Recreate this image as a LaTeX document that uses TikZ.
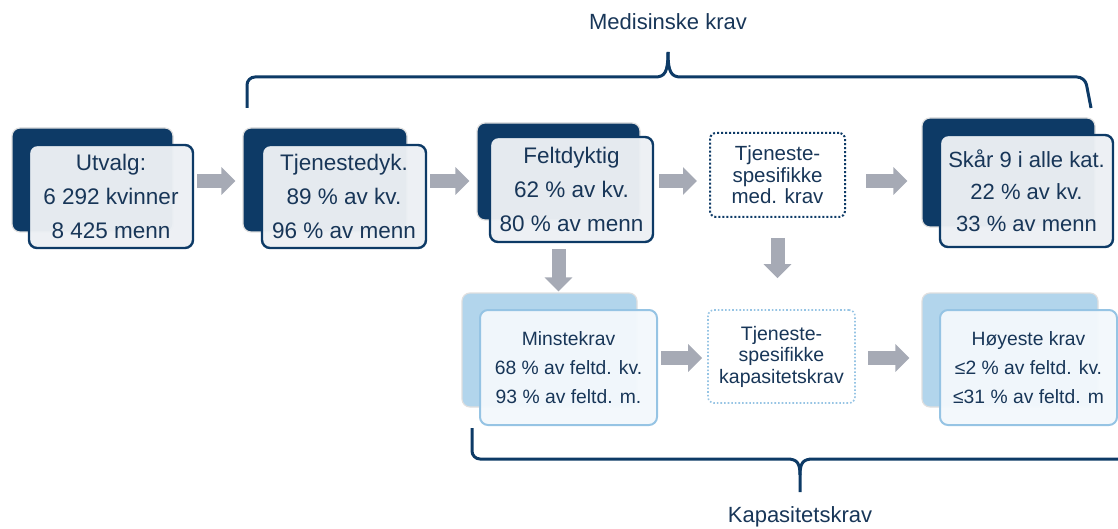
\documentclass[tikz,border=0pt]{standalone}
\usepackage{fontspec}
\setmainfont{Liberation Sans}
\usetikzlibrary{arrows.meta, positioning, calc}
\definecolor{navy}{RGB}{13,58,102}
\definecolor{textnavy}{RGB}{24,54,88}
\definecolor{frontfill}{RGB}{236,240,244}
\definecolor{skyfill}{RGB}{178,213,236}
\definecolor{skyline}{RGB}{150,196,228}
\definecolor{icefill}{RGB}{243,248,252}
\definecolor{arrowgray}{RGB}{166,170,181}
\tikzset{
    backbox/.style={rectangle, rounded corners=8pt, draw=gray!25, line width=1.2pt, fill=navy, inner sep=0pt},
    frontbox/.style={rectangle, rounded corners=8pt, draw=navy, line width=2.4pt, fill=frontfill, fill opacity=0.97, text opacity=1, text=textnavy, align=center, inner sep=0pt, font=\fontsize{22.5pt}{34pt}\selectfont},
    lightback/.style={backbox, fill=skyfill},
    lightfront/.style={frontbox, draw=skyline, line width=2pt, fill=icefill, font=\fontsize{19.3pt}{29pt}\selectfont},
    dotbox/.style={rectangle, rounded corners=6pt, draw=navy, dotted, line width=2pt, fill=white, text=textnavy, align=center, inner sep=0pt, font=\fontsize{20.5pt}{21.5pt}\selectfont},
    lightdotbox/.style={dotbox, draw=skyline, line width=1.6pt, font=\fontsize{19.5pt}{21.5pt}\selectfont},
    blockarrow/.style={arrowgray, line width=14pt, -{Triangle[length=14pt, width=27pt]}, shorten <=3pt, shorten >=7pt},
    bracket/.style={navy, line width=3pt},
    bracketlabel/.style={text=textnavy, font=\fontsize{22pt}{26pt}\selectfont}
}
\begin{document}
\begin{tikzpicture}[x=1pt, y=-1pt]
    \useasboundingbox (0,0) rectangle (1118,529);

    \node[backbox, minimum width=161pt, minimum height=104pt] (utvalg_bg) at (92.5,180) {};
    \node[frontbox, minimum width=164pt, minimum height=103pt] (utvalg) at (111,196.5) {Utvalg:\\6 292 kvinner\\8 425 menn};
    \node[backbox, minimum width=164pt, minimum height=104pt] (tjenestedyk_bg) at (325,180) {};
    \node[frontbox, minimum width=164pt, minimum height=103pt] (tjenestedyk) at (344,196.5) {Tjenestedyk.\\89 \% av kv.\\96 \% av menn};
    \node[backbox, minimum width=163pt, minimum height=97pt] (feltdyktig_bg) at (558.5,171.5) {};
    \node[frontbox, minimum width=163pt, minimum height=105pt] (feltdyktig) at (571.5,189.5) {Feltdyktig\\62 \% av kv.\\80 \% av menn};
    \node[dotbox, minimum width=135pt, minimum height=84pt] (medkrav) at (777.5,175) {Tjeneste-\\spesifikke\\med. krav};
    \node[backbox, minimum width=173pt, minimum height=109pt] (skaar_bg) at (1008.5,172.5) {};
    \node[frontbox, minimum width=173pt, minimum height=112pt, font=\fontsize{22pt}{32pt}\selectfont] (skaar) at (1026.5,191) {Skår 9 i alle kat.\\22 \% av kv.\\33 \% av menn};

    \node[lightback, minimum width=175pt, minimum height=114pt] (minstekrav_bg) at (549.5,350) {};
    \node[lightfront, minimum width=177pt, minimum height=115pt] (minstekrav) at (568.5,367.5) {Minstekrav\\68 \% av feltd. kv.\\93 \% av feltd. m.};
    \node[lightdotbox, minimum width=147pt, minimum height=93pt] (tjkap) at (781.5,356.5) {Tjeneste-\\spesifikke\\kapasitetskrav};
    \node[lightback, minimum width=176pt, minimum height=114pt] (hoyeste_bg) at (1010,350) {};
    \node[lightfront, minimum width=177pt, minimum height=115pt] (hoyeste) at (1028.5,367.5) {Høyeste krav\\≤2 \% av feltd. kv.\\≤31 \% av feltd. m};

    \coordinate (toprow) at (0,181);
    \coordinate (botrow) at (0,358);

    \draw[blockarrow] (utvalg.east |- toprow) -- (tjenestedyk_bg.west |- toprow);
    \draw[blockarrow] (tjenestedyk.east |- toprow) -- (feltdyktig_bg.west |- toprow);
    \draw[blockarrow, shorten <=5pt, shorten >=12pt] (feltdyktig.east |- toprow) -- (medkrav.west |- toprow);
    \draw[blockarrow, shorten <=20pt, shorten >=14pt] (medkrav.east |- toprow) -- (skaar_bg.west |- toprow);
    \draw[blockarrow, shorten <=6pt, shorten >=1pt] (feltdyktig_bg.center |- feltdyktig.south) -- (feltdyktig_bg.center |- minstekrav_bg.north);
    \draw[blockarrow, shorten <=20pt, shorten >=31pt] (medkrav.south) -- (medkrav.south |- tjkap.north);
    \draw[blockarrow, shorten <=3pt, shorten >=5pt] (minstekrav.east |- botrow) -- (tjkap.west |- botrow);
    \draw[blockarrow, shorten <=12pt, shorten >=12pt] (tjkap.east |- botrow) -- (hoyeste_bg.west |- botrow);

    \draw[bracket] (247,108) [rounded corners=8pt] -- (247,77) [sharp corners] -- (655,77) .. controls (665,77) and (668,72) .. (668,52);
    \draw[bracket] (668,52) .. controls (668,72) and (671,77) .. (681,77) [rounded corners=8pt] -- (1085,77) -- (1091,108);
    \node[bracketlabel] (medisinske) at (668,22) {Medisinske krav};

    \draw[bracket] (472,428) [rounded corners=8pt] -- (472,459) [sharp corners] -- (787,459) .. controls (797,459) and (800,463) .. (800,475) -- (800,492);
    \draw[bracket] (800,475) .. controls (800,463) and (803,459) .. (813,459) -- (1120,459);
    \node[bracketlabel] (kapasitet) at (800,517) {Kapasitetskrav};
\end{tikzpicture}
\end{document}
